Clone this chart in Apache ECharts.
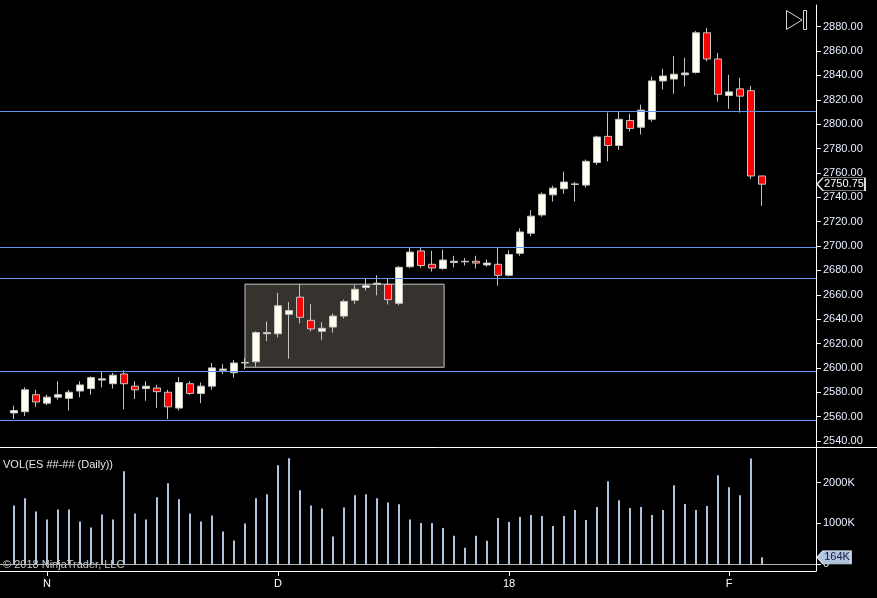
<!DOCTYPE html>
<html><head><meta charset="utf-8">
<script src="https://cdn.jsdelivr.net/npm/echarts@6/dist/echarts.min.js"></script>
<style>html,body{margin:0;padding:0;background:#000;}#c{width:877px;height:598px;}</style>
</head><body><div id="c"></div>
<script>
// Daily ES bars (index = trading day)
const openP  = [2563,2564,2578,2571,2576,2575,2581,2583,2590,2587,2595,2585,2583,2583.5,2580,2567,2587,2579,2585,2598,2596,2604,2605,2628,2628,2644,2658,2639,2630,2633.5,2642.5,2655.5,2666,2668.5,2668.5,2653,2683,2696,2685,2681.5,2686.5,2687,2687.5,2684.5,2685,2676,2694,2710.5,2725.5,2742,2747,2750.5,2750,2768.5,2790,2782.5,2803,2797.5,2804,2835.5,2837,2840.5,2842.5,2875,2853.5,2823.5,2829,2827.5,2757.5];
const closeP = [2565,2582,2572,2576,2578,2580,2586,2592,2591,2594,2587,2582,2585,2580.5,2568,2588,2579,2585,2600,2599,2604,2604.5,2629,2629,2651,2647,2641.5,2632,2632.5,2642.5,2654.5,2664.5,2667.5,2669.5,2656,2682.5,2695,2684,2682,2688.5,2687.5,2687.5,2686,2686,2676,2693,2711.5,2724.5,2742.5,2747.5,2752.5,2751,2769.5,2789.5,2782.5,2804,2796.5,2811.5,2835.5,2839.5,2841,2842,2875,2853.5,2824.5,2826.5,2823,2757.5,2750.75];
const highP  = [2569,2584,2582,2578,2589,2582,2589,2593,2597,2596,2598,2589,2589,2586,2582,2592.5,2589,2588,2604,2603,2606.5,2608,2630,2638,2661.5,2654,2668.5,2652.5,2637.5,2644.5,2656,2668,2673,2676,2673.5,2683.5,2699,2699,2696,2697,2692,2690,2692,2689,2699,2696.5,2714.5,2729.5,2744,2749.5,2761,2752.5,2771,2790.5,2809.5,2810,2808.5,2816,2839,2845.5,2856,2854.5,2876.5,2879,2858.5,2840.5,2838,2831.5,2757.5];
const lowP   = [2558,2560.5,2568,2569.5,2574,2565,2576,2578,2584,2583,2566,2574.5,2573,2567,2558,2565,2578,2571,2582,2595,2592,2599,2601,2622,2625,2607.5,2636.5,2630,2623,2629,2640.5,2652.5,2663.5,2659.5,2652,2651.5,2682,2682,2679,2680.5,2682.5,2684,2681.5,2683,2667.5,2675,2692,2708,2724,2736.5,2743,2736.5,2748,2766.5,2769.5,2779,2794,2791.5,2802,2828.5,2825,2831,2841.5,2851.5,2818.5,2812.5,2809.5,2755,2733];
// Volume in thousands of contracts
const volumeK = [1440,1613,1292,1095,1342,1342,1045,897,1218,1095,2280,1243,1095,1638,1984,1588,1243,1045,1193,798,576,996,1613,1712,2428,2601,1811,1440,1366,675,1391,1687,1712,1613,1514,1465,1095,1008,1008,886,691,398,691,569,1130,1033,1154,1203,1179,935,1179,1325,1081,1398,2033,1569,1374,1398,1203,1325,1935,1472,1325,1423,2179,1886,1691,2593,164];
// Horizontal drawn levels and highlighted consolidation box
const levels = [2811, 2699.3, 2673.6, 2597.5, 2557.3];
const boxX = [21, 39.1];
const boxY = [2600.5, 2668.7];
// Axis ticks
const monthTickIdx = [3, 24, 45, 65];
const monthLabels = ['N', 'D', '18', 'F'];
const priceTicks = [2540,2560,2580,2600,2620,2640,2660,2680,2700,2720,2740,2760,2780,2800,2820,2840,2860,2880];
const volTicks = [0, 1000, 2000];

const FONT = '"Liberation Sans", Arial, sans-serif';
const xMin = -14/11, xMax = 802/11;
const candleData = openP.map((o, i) => [i, o, closeP[i], lowP[i], highP[i]]);
const volData = volumeK.map((v, i) => [i, v]);
const lastClose = closeP[closeP.length - 1];
const lastVol = volumeK[volumeK.length - 1];

const chart = echarts.init(document.getElementById('c'));
chart.setOption({
  backgroundColor: '#000',
  animation: false,
  grid: [
    {left: 0, right: 61, top: 5, height: 442, outerBoundsMode: 'none', containLabel: false},
    {left: 0, right: 61, top: 448, height: 123, outerBoundsMode: 'none', containLabel: false}
  ],
  xAxis: [
    {type: 'value', gridIndex: 0, min: xMin, max: xMax, show: false, splitLine: {show: false}},
    {type: 'value', gridIndex: 1, min: xMin, max: xMax,
      axisLine: {show: true, onZero: false, lineStyle: {color: '#ffffff', width: 1}},
      axisTick: {show: true, customValues: monthTickIdx, length: 5, lineStyle: {color: '#ffffff'}},
      axisLabel: {show: true, customValues: monthTickIdx, formatter: v => monthLabels[monthTickIdx.indexOf(v)], color: '#ffffff', fontSize: 11, fontFamily: FONT, margin: 7},
      splitLine: {show: false}}
  ],
  yAxis: [
    {type: 'value', gridIndex: 0, position: 'right', min: 2535.07, max: 2897.8,
      axisLine: {show: true, onZero: false, lineStyle: {color: '#ffffff', width: 1}},
      axisTick: {show: true, customValues: priceTicks, length: 5, lineStyle: {color: '#ffffff'}},
      axisLabel: {show: true, customValues: priceTicks, formatter: v => v.toFixed(2), color: '#e8eeff', fontSize: 11, fontFamily: FONT, margin: 7},
      splitLine: {show: false}},
    {type: 'value', gridIndex: 1, position: 'right', min: -172, max: 2850,
      axisLine: {show: true, onZero: false, lineStyle: {color: '#ffffff', width: 1}},
      axisTick: {show: true, customValues: volTicks, length: 5, lineStyle: {color: '#ffffff'}},
      axisLabel: {show: true, customValues: volTicks, formatter: v => v === 0 ? '0' : v + 'K', color: '#e8eeff', fontSize: 11, fontFamily: FONT, margin: 7},
      splitLine: {show: false}}
  ],
  series: [
    {
      type: 'candlestick', xAxisIndex: 0, yAxisIndex: 0,
      dimensions: ['idx', 'open', 'close', 'lowest', 'highest'],
      encode: {x: 'idx', y: ['open', 'close', 'lowest', 'highest']},
      data: candleData,
      barWidth: 7,
      itemStyle: {color: '#fffff0', color0: '#ff0000', borderColor: '#c4c4c4', borderColor0: '#c4c4c4', borderColorDoji: '#c4c4c4', borderWidth: 1},
      markArea: {
        silent: true,
        itemStyle: {color: '#36322d', borderColor: '#c8c8c8', borderWidth: 1},
        label: {show: false},
        data: [[{coord: [boxX[0], boxY[1]]}, {coord: [boxX[1], boxY[0]]}]]
      },
      markLine: {
        silent: true, symbol: ['none', 'none'],
        lineStyle: {color: '#6495ed', width: 1, type: 'solid'},
        label: {show: false},
        data: levels.map(v => ({yAxis: v}))
      },
      markPoint: {
        silent: true,
        symbol: 'path://M0,6.5L6,0L48,0L48,13L6,13Z',
        symbolSize: [48, 13], symbolKeepAspect: false,
        symbolOffset: [25, 0],
        itemStyle: {color: '#000000', borderColor: '#e6e6e6', borderWidth: 1},
        label: {show: true, position: 'inside', formatter: lastClose.toFixed(2), color: '#ffffff', fontSize: 11, fontFamily: FONT, offset: [3, 0]},
        data: [{coord: [xMax, lastClose]}]
      }
    },
    {
      type: 'bar', xAxisIndex: 1, yAxisIndex: 1,
      data: volData, barWidth: 2,
      itemStyle: {color: '#b0c4de'},
      markLine: {
        silent: true, symbol: ['none', 'none'],
        lineStyle: {color: '#b4b4b4', width: 1, type: 'solid'},
        label: {show: false},
        data: [{yAxis: 0}]
      },
      markPoint: {
        silent: true,
        symbol: 'path://M0,6.5L6,0L34,0L34,13L6,13Z',
        symbolSize: [34, 13], symbolKeepAspect: false,
        symbolOffset: [18, 0],
        itemStyle: {color: '#b0c4de', borderColor: '#dce6f4', borderWidth: 1},
        label: {show: true, position: 'inside', formatter: lastVol + 'K', color: '#1a1a40', fontSize: 11, fontFamily: FONT, offset: [3, 0]},
        data: [{coord: [xMax, lastVol]}]
      }
    }
  ],
  graphic: [
    {type: 'line', silent: true, shape: {x1: 0, y1: 447.5, x2: 877, y2: 447.5}, style: {stroke: '#ffffff', lineWidth: 1}},
    {type: 'text', silent: true, left: 3, top: 459, style: {text: 'VOL(ES ##-## (Daily))', fill: '#e6e6e6', font: '11px "Liberation Sans", Arial, sans-serif'}},
    {type: 'text', silent: true, left: 3, top: 559, style: {text: '\u00a9 2018 NinjaTrader, LLC', fill: '#c8c8c8', font: '11px "Liberation Sans", Arial, sans-serif'}},
    {type: 'polygon', silent: true, shape: {points: [[786.5, 10.5], [802, 20], [786.5, 29.5]]}, style: {fill: 'none', stroke: '#d8d8d8', lineWidth: 1}},
    {type: 'rect', silent: true, shape: {x: 803.5, y: 10.5, width: 3, height: 19}, style: {fill: 'none', stroke: '#d8d8d8', lineWidth: 1}}
  ]
});
</script>
</body></html>
